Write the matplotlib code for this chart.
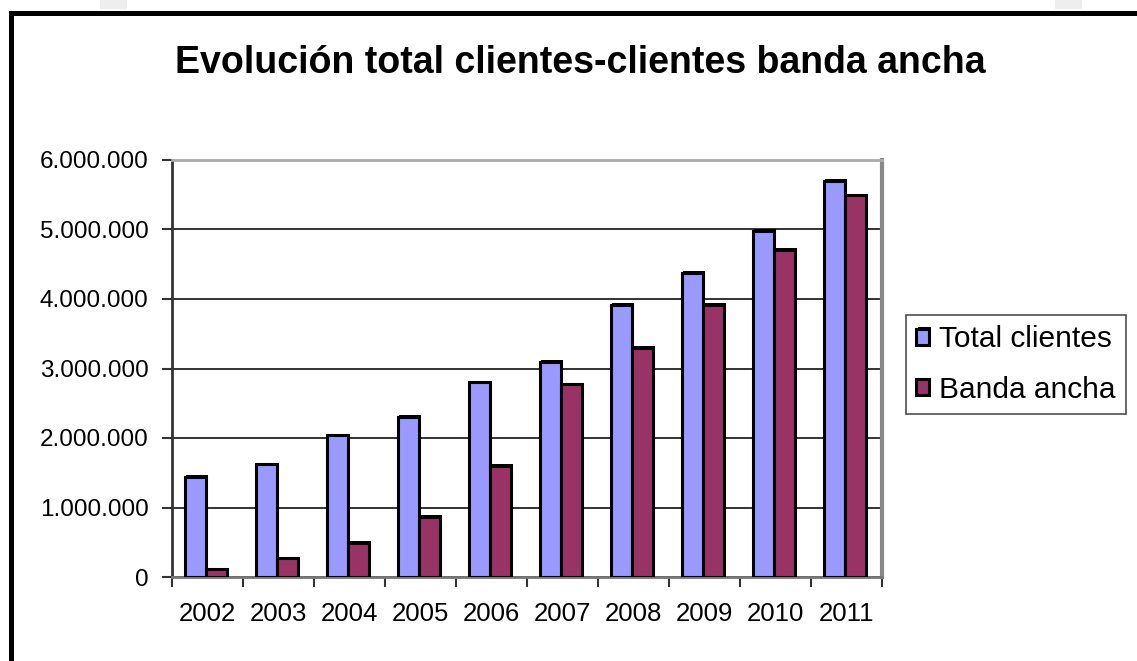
import matplotlib
matplotlib.use("Agg")
import numpy as np
import matplotlib.pyplot as plt
import matplotlib.patheffects as pe
from matplotlib.lines import Line2D
from matplotlib.ticker import FuncFormatter, FixedLocator

years = ["2002", "2003", "2004", "2005", "2006", "2007", "2008", "2009", "2010", "2011"]
total_clientes = [1440000, 1620000, 2040000, 2300000, 2800000, 3100000, 3920000, 4380000, 4980000, 5700000]
banda_ancha = [110000, 270000, 490000, 870000, 1600000, 2770000, 3300000, 3920000, 4710000, 5490000]
series_names = ["Total clientes", "Banda ancha"]
colors = ["#9999FF", "#993366"]

plt.rcParams['font.family'] = ['Liberation Sans', 'DejaVu Sans']

fig = plt.figure(figsize=(11.37, 6.61), dpi=100)
fig.patch.set_facecolor("white")

# faint background bits above the chart frame
for x0 in (100, 1055):
    fig.patches.append(plt.Rectangle((x0 / 1137, 1 - 9 / 661), 27 / 1137, 9 / 661,
                                     transform=fig.transFigure, fc="#EEEEEE", ec="none"))
# chart frame (cut off at right and bottom)
fig.lines.append(Line2D([10.5 / 1137, 1.0], [1 - 12.5 / 661, 1 - 12.5 / 661],
                        transform=fig.transFigure, color="black", lw=3.6))
fig.lines.append(Line2D([10.5 / 1137, 10.5 / 1137], [1 - 12.5 / 661, 0.0],
                        transform=fig.transFigure, color="black", lw=3.6))

ax = fig.add_axes([172 / 1137, 1 - 577 / 661, 710 / 1137, 417 / 661])

x = np.arange(len(years))
w = 0.30
shadow = [pe.SimplePatchShadow(offset=(1.2, 1.2), shadow_rgbFace="black", alpha=1.0), pe.Normal()]
b1 = ax.bar(x - 0.17, total_clientes, w, color=colors[0], edgecolor="black", lw=2.2,
            label=series_names[0], zorder=3)
b2 = ax.bar(x + 0.13, banda_ancha, w, color=colors[1], edgecolor="black", lw=2.2,
            label=series_names[1], zorder=3)
for bars in (b1, b2):
    for p in bars:
        p.set_path_effects(shadow)

ax.set_xlim(-0.5, len(years) - 0.5)
ax.set_ylim(0, 6000000)
ax.set_yticks(np.arange(0, 6000001, 1000000))
ax.yaxis.set_major_formatter(FuncFormatter(lambda v, p: f"{int(v):,}".replace(",", ".")))
ax.yaxis.grid(True, color="#222222", lw=1.3, zorder=0)
ax.set_axisbelow(True)

ax.set_xticks(x)
ax.set_xticklabels(years)
ax.xaxis.set_minor_locator(FixedLocator(np.arange(-0.5, len(years), 1.0)))
ax.tick_params(axis="x", which="major", length=0, pad=18, labelsize=18.5)
ax.tick_params(axis="x", which="minor", length=7, width=1.5, color="#333333")
ax.tick_params(axis="y", length=7, width=1.5, color="#333333", pad=10, labelsize=17.5)

ax.spines["left"].set_color("#333333")
ax.spines["left"].set_linewidth(2)
ax.spines["bottom"].set_color("#777777")
ax.spines["bottom"].set_linewidth(2)
ax.spines["right"].set_color("#888888")
ax.spines["right"].set_linewidth(3)
ax.spines["top"].set_color("#AAAAAA")
ax.spines["top"].set_linewidth(2)

fig.text(580 / 1137, 1 - 73 / 661, "Evolución total clientes-clientes banda ancha",
         ha="center", va="baseline", fontsize=27, fontweight="bold")

leg = fig.legend(handles=[b1, b2], labels=series_names, loc="upper left",
                 bbox_to_anchor=(906 / 1137, 1 - 315 / 661), fontsize=21.5,
                 frameon=True, fancybox=False, edgecolor="#222222", borderpad=0.35,
                 handlelength=0.42, handleheight=0.42, handletextpad=0.35, labelspacing=0.75,
                 borderaxespad=0)
leg.get_frame().set_linewidth(1.2)

fig.savefig("out.png", dpi=100)
